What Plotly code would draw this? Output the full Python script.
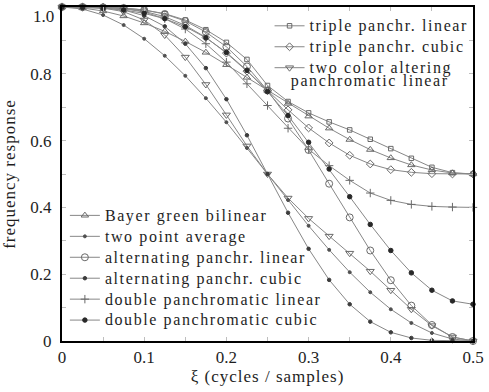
import plotly.graph_objects as go

xi = [0, 0.025, 0.05, 0.075, 0.1, 0.125, 0.15, 0.175, 0.2, 0.225, 0.25,
      0.275, 0.3, 0.325, 0.35, 0.375, 0.4, 0.425, 0.45, 0.475, 0.5]

triple_linear = [1.0, 1.0, 0.999, 0.997, 0.991, 0.98, 0.961, 0.932, 0.894, 0.843, 0.765,
                 0.717, 0.683, 0.656, 0.632, 0.604, 0.576, 0.547, 0.52, 0.504, 0.5]
triple_cubic = [1.0, 1.0, 0.999, 0.996, 0.987, 0.971, 0.945, 0.909, 0.862, 0.808, 0.75,
                0.692, 0.638, 0.593, 0.556, 0.53, 0.513, 0.505, 0.501, 0.5, 0.5]
two_color = [1.0, 1.0, 0.997, 0.986, 0.961, 0.916, 0.85, 0.768, 0.677, 0.584, 0.5,
             0.428, 0.367, 0.314, 0.263, 0.209, 0.152, 0.095, 0.046, 0.012, 0.0]
bayer = [1.0, 0.997, 0.988, 0.973, 0.952, 0.927, 0.897, 0.864, 0.827, 0.789, 0.75,
         0.711, 0.673, 0.637, 0.603, 0.573, 0.548, 0.527, 0.512, 0.503, 0.5]
two_point = [1.0, 0.994, 0.976, 0.946, 0.905, 0.854, 0.794, 0.727, 0.655, 0.578, 0.5,
             0.422, 0.345, 0.273, 0.206, 0.146, 0.095, 0.054, 0.024, 0.006, 0.0]
alt_linear = [1.0, 1.0, 0.999, 0.997, 0.991, 0.979, 0.958, 0.925, 0.881, 0.822, 0.75,
              0.666, 0.572, 0.471, 0.37, 0.271, 0.182, 0.106, 0.048, 0.012, 0.0]
alt_cubic = [1.0, 1.0, 0.998, 0.991, 0.974, 0.942, 0.89, 0.817, 0.724, 0.616, 0.5,
             0.384, 0.276, 0.183, 0.11, 0.058, 0.026, 0.009, 0.002, 0.0, 0.0]
double_linear = [1.0, 1.0, 0.999, 0.995, 0.985, 0.965, 0.934, 0.89, 0.835, 0.77, 0.705,
                 0.637, 0.574, 0.525, 0.481, 0.443, 0.421, 0.409, 0.403, 0.401, 0.4]
double_cubic = [1.0, 0.999, 0.996, 0.991, 0.981, 0.965, 0.941, 0.908, 0.864, 0.81, 0.747,
                0.675, 0.595, 0.515, 0.432, 0.349, 0.271, 0.204, 0.152, 0.12, 0.11]

x_ticks = [0, 0.1, 0.2, 0.3, 0.4, 0.5]
x_labels = ["0", "0.1", "0.2", "0.3", "0.4", "0.5"]
y_ticks = [0, 0.2, 0.4, 0.6, 0.8]
y_labels = ["0", "0.2", "0.4", "0.6", "0.8"]

LINE = "rgb(135,135,135)"
MK = "rgb(105,105,105)"
FONT = "Liberation Serif"
TXT = "#1e1e1e"

series = [
    ("triple panchr. linear", triple_linear, "square-open", 4.5, MK, "legend"),
    ("triple panchr. cubic", triple_cubic, "diamond-open", 6, MK, "legend"),
    ("two color altering", two_color, "triangle-down-open", 7, MK, "legend"),
    ("Bayer green bilinear", bayer, "triangle-up-open", 6.5, MK, "legend2"),
    ("two point average", two_point, "circle", 3, "rgb(80,80,80)", "legend2"),
    ("alternating panchr. linear", alt_linear, "circle-open", 7, MK, "legend2"),
    ("alternating panchr. cubic", alt_cubic, "circle", 3.5, "rgb(60,60,60)", "legend2"),
    ("double panchromatic linear", double_linear, "cross-thin-open", 6, MK, "legend2"),
    ("double panchromatic cubic", double_cubic, "circle", 4.5, "rgb(40,40,40)", "legend2"),
]

fig = go.Figure()
for name, vals, sym, size, col, leg in series:
    fig.add_trace(go.Scatter(
        x=xi, y=vals, name=name, mode="lines+markers",
        line=dict(color=LINE, width=1),
        marker=dict(symbol=sym, size=size, color=col, line=dict(color=col, width=1)),
        legend=leg, cliponaxis=False,
    ))

axis_common = dict(
    showline=True, linewidth=2, linecolor="black", mirror="allticks",
    ticks="inside", ticklen=4, tickcolor="rgb(190,190,190)", tickwidth=1,
    showgrid=False, zeroline=False, ticklabeloverflow="allow",
    tickfont=dict(family=FONT, size=17, color=TXT),
)

LEG_FS = 13.8  # layout size giving ~21px rows; drawn at 16px via CSS

fig.update_layout(
    width=489, height=392,
    margin=dict(l=62, r=5, t=6, b=51),
    paper_bgcolor="white", plot_bgcolor="white",
    font=dict(family=FONT, size=17, color=TXT),
    xaxis=dict(range=[0, 0.5], tickvals=x_ticks, ticktext=x_labels,
               minor=dict(ticks="inside", dtick=0.05, ticklen=4, tickcolor="rgb(190,190,190)"),
               title=dict(text="ξ (cycles / samples)", font=dict(family=FONT, size=17, color=TXT), standoff=4),
               ticklabelstandoff=0, **axis_common),
    yaxis=dict(range=[0, 1.0], tickvals=y_ticks, ticktext=y_labels,
               minor=dict(ticks="inside", dtick=0.1, ticklen=4, tickcolor="rgb(190,190,190)"),
               title=dict(text="frequency response", font=dict(family=FONT, size=17, color=TXT), standoff=13),
               ticklabelstandoff=5, **axis_common),
    legend=dict(x=0.505, y=0.99, xanchor="left", yanchor="top",
                bgcolor="rgba(0,0,0,0)", font=dict(family=FONT, size=LEG_FS, color=TXT),
                tracegroupgap=0, itemwidth=30),
    legend2=dict(x=0.007, y=0.4224, xanchor="left", yanchor="top",
                 bgcolor="rgba(0,0,0,0)", font=dict(family=FONT, size=LEG_FS, color=TXT),
                 tracegroupgap=0, itemwidth=30),
    annotations=[
        dict(text="1.0", x=0, y=1.0, xref="paper", yref="paper",
             xanchor="right", yanchor="middle", xshift=-6, yshift=-9,
             showarrow=False, font=dict(family=FONT, size=17, color=TXT)),
        dict(text="panchromatic linear", x=0.5895, y=0.777, xref="paper", yref="paper",
             xanchor="left", yanchor="middle", showarrow=False,
             font=dict(family=FONT, size=16, color=TXT)),
    ],
)

css = (".legendtext,.legend2text{font-size:16px !important;letter-spacing:1.6px}"
       ".scrollbox{clip-path:none !important}"
       ".xtitle,.ytitle{letter-spacing:1px}"
       ".annotation[data-index='1'] .annotation-text{letter-spacing:1.6px}")
post = ("var s=document.createElement('style');s.textContent=\"" + css + "\";"
        "document.head.appendChild(s);")

fig.write_html("out.html", post_script=post)
